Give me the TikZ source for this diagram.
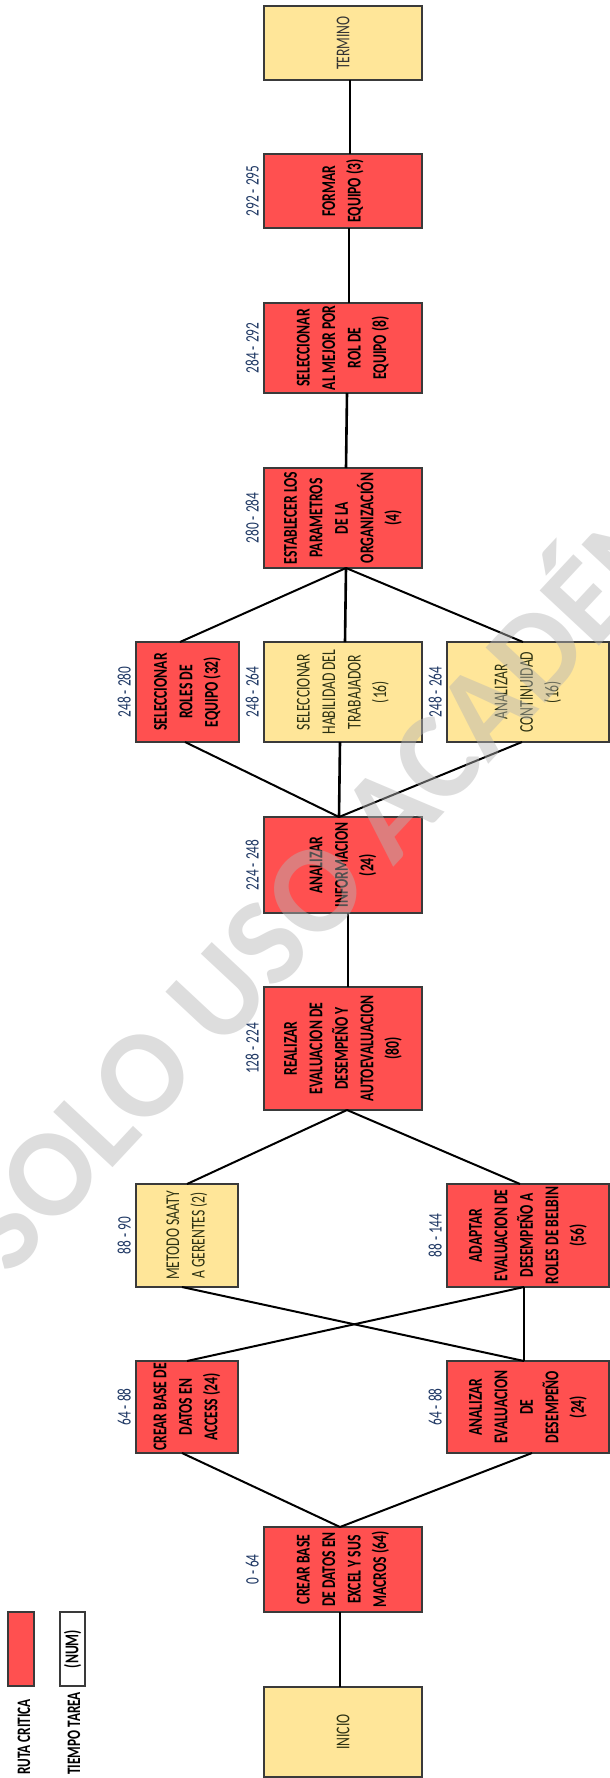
\documentclass[tikz,border=0pt]{standalone}
\usepackage{fontspec}
\setmainfont{Carlito}
\newfontfamily\boxfont[FakeStretch=0.7]{Carlito}
\definecolor{critred}{HTML}{FF5050}
\definecolor{paleyel}{HTML}{FFE699}
\definecolor{bordergray}{HTML}{3A3A3A}
\definecolor{olivetext}{HTML}{2C3112}
\definecolor{greytext}{HTML}{333333}
\definecolor{timeblue}{HTML}{1F3864}
\definecolor{wmgray}{RGB}{180,180,180}
\begin{document}
\begin{tikzpicture}[x=1pt,y=-1pt,
  box/.style={draw=bordergray, line width=1.2pt, inner sep=0pt, outer sep=0pt, rectangle},
  redbox/.style={box, fill=critred},
  yelbox/.style={box, fill=paleyel},
  btext/.style={rotate=90, align=center, inner sep=0pt, font=\boxfont\bfseries\fontsize{19.5}{25.5}\selectfont, text=black},
  ytext/.style={rotate=90, align=center, inner sep=0pt, font=\boxfont\fontsize{19.5}{25.5}\selectfont, text=olivetext},
  timelbl/.style={rotate=90, anchor=south, inner sep=0pt, font=\boxfont\fontsize{19}{25.5}\selectfont, text=timeblue},
  legtext/.style={rotate=90, anchor=base west, inner sep=0pt, font=\boxfont\bfseries\fontsize{19}{25.5}\selectfont, text=black},
  conn/.style={line width=2pt, black},
  vconn/.style={line width=2.6pt, black},
]
\useasboundingbox[fill=white] (0,0) rectangle (610,1778);

% ---- boxes ----
\node[yelbox, minimum width=158pt, minimum height=74pt] (termino) at (343,43) {};
\node[redbox, minimum width=158pt, minimum height=74pt] (formar) at (343,191) {};
\node[redbox, minimum width=158pt, minimum height=90pt] (selmejor) at (343,348) {};
\node[redbox, minimum width=158pt, minimum height=100pt] (establecer) at (343,518) {};
\node[redbox, minimum width=103pt, minimum height=100pt] (roles) at (187.5,692) {};
\node[yelbox, minimum width=158pt, minimum height=100pt] (habilidad) at (343,692) {};
\node[yelbox, minimum width=162pt, minimum height=100pt] (continuidad) at (528,692) {};
\node[redbox, minimum width=158pt, minimum height=96pt] (analizarinfo) at (343,865) {};
\node[redbox, minimum width=158pt, minimum height=123pt] (realizar) at (343,1048.5) {};
\node[yelbox, minimum width=102pt, minimum height=103pt] (saaty) at (187,1235.5) {};
\node[redbox, minimum width=162pt, minimum height=103pt] (adaptar) at (528,1235.5) {};
\node[redbox, minimum width=102pt, minimum height=92pt] (access) at (187,1407) {};
\node[redbox, minimum width=162pt, minimum height=92pt] (analizareval) at (528,1407) {};
\node[redbox, minimum width=158pt, minimum height=85pt] (crearbase) at (343,1569.5) {};
\node[yelbox, minimum width=158pt, minimum height=90pt] (inicio) at (343,1732) {};
\node[redbox, minimum width=26pt, minimum height=74pt] (legred) at (21,1649) {};
\node[box, fill=white, minimum width=25pt, minimum height=74pt] (legwhite) at (72.5,1649) {};

% ---- connectors ----
\draw[vconn] ([xshift=-3pt]inicio.north) -- ([xshift=-3pt]crearbase.south);
\draw[conn] ([xshift=-3pt]crearbase.north) -- ([xshift=-5pt]access.south);
\draw[conn] ([xshift=-3pt]crearbase.north) -- ([xshift=4pt]analizareval.south);
\draw[conn] (access.north) -- ([xshift=-4pt]adaptar.south);
\draw[conn] ([xshift=-5pt]saaty.south) -- ([xshift=-4pt]analizareval.north);
\draw[vconn] ([xshift=-4pt]analizareval.north) -- ([xshift=-4pt]adaptar.south);
\draw[conn] (saaty.north) -- ([xshift=4pt]realizar.south);
\draw[conn] ([xshift=-8pt]adaptar.north) -- ([xshift=4pt]realizar.south);
\draw[vconn] ([xshift=5pt]realizar.north) -- ([xshift=5pt]analizarinfo.south);
\draw[conn] ([xshift=-4pt]analizarinfo.north) -- ([xshift=-2.5pt]roles.south);
\draw[vconn] ([xshift=-4pt]analizarinfo.north) -- ([xshift=-3pt]habilidad.south);
\draw[conn] ([xshift=-4pt]analizarinfo.north) -- ([xshift=-6pt]continuidad.south);
\draw[conn] ([xshift=-7.5pt]roles.north) -- ([xshift=3pt]establecer.south);
\draw[vconn] ([xshift=2pt]habilidad.north) -- ([xshift=3pt]establecer.south);
\draw[conn] ([xshift=-5pt]continuidad.north) -- ([xshift=3pt]establecer.south);
\draw[vconn] ([xshift=3pt]establecer.north) -- ([xshift=4pt]selmejor.south);
\draw[vconn] ([xshift=6pt]selmejor.north) -- ([xshift=6pt]formar.south);
\draw[vconn] ([xshift=7pt]formar.north) -- ([xshift=7pt]termino.south);

% ---- box texts ----
\node[ytext, text=greytext] (t-termino) at (termino.center) {TERMINO};
\node[btext] (t-formar) at (formar.center) {FORMAR\\EQUIPO (3)};
\node[btext] (t-selmejor) at (selmejor.center) {SELECCIONAR\\AL MEJOR POR\\ROL DE\\EQUIPO (8)};
\node[btext] (t-establecer) at (establecer.center) {ESTABLECER LOS\\PARAMETROS\\DE LA\\ORGANIZACIÓN\\(4)};
\node[btext] (t-roles) at (roles.center) {SELECCIONAR\\ROLES DE\\EQUIPO (32)};
\node[ytext] (t-habilidad) at (habilidad.center) {SELECCIONAR\\HABILIDAD DEL\\TRABAJADOR\\(16)};
\node[ytext] (t-continuidad) at (continuidad.center) {ANALIZAR\\CONTINUIDAD\\(16)};
\node[btext] (t-analizarinfo) at (analizarinfo.center) {ANALIZAR\\INFORMACION\\(24)};
\node[btext] (t-realizar) at (realizar.center) {REALIZAR\\EVALUACION DE\\DESEMPEÑO Y\\AUTOEVALUACION\\(80)};
\node[ytext] (t-saaty) at (saaty.center) {METODO SAATY\\A GERENTES (2)};
\node[btext] (t-adaptar) at (adaptar.center) {ADAPTAR\\EVALUACION DE\\DESEMPEÑO A\\ROLES DE BELBIN\\(56)};
\node[btext] (t-access) at (access.center) {CREAR BASE DE\\DATOS EN\\ACCESS (24)};
\node[btext] (t-analizareval) at (analizareval.center) {ANALIZAR\\EVALUACION\\DE\\DESEMPEÑO\\(24)};
\node[btext] (t-crearbase) at (crearbase.center) {CREAR BASE\\DE DATOS EN\\EXCEL Y SUS\\MACROS (64)};
\node[ytext] (t-inicio) at (inicio.center) {INICIO};
\node[btext] (t-num) at (legwhite.center) {(NUM)};

% ---- time labels ----
\node[timelbl] (l-crearbase) at ([xshift=-5pt]crearbase.west) {0 - 64};
\node[timelbl] (l-access) at ([xshift=-5pt]access.west) {64 - 88};
\node[timelbl] (l-analizareval) at ([xshift=-5pt]analizareval.west) {64 - 88};
\node[timelbl] (l-saaty) at ([xshift=-5pt]saaty.west) {88 - 90};
\node[timelbl] (l-adaptar) at ([xshift=-5pt]adaptar.west) {88 - 144};
\node[timelbl] (l-realizar) at ([xshift=-5pt]realizar.west) {128 - 224};
\node[timelbl] (l-analizarinfo) at ([xshift=-5pt]analizarinfo.west) {224 - 248};
\node[timelbl] (l-roles) at ([xshift=-5pt]roles.west) {248 - 280};
\node[timelbl] (l-habilidad) at ([xshift=-5pt]habilidad.west) {248 - 264};
\node[timelbl] (l-continuidad) at ([xshift=-5pt]continuidad.west) {248 - 264};
\node[timelbl] (l-establecer) at ([xshift=-5pt]establecer.west) {280 - 284};
\node[timelbl] (l-selmejor) at ([xshift=-5pt]selmejor.west) {284 - 292};
\node[timelbl] (l-formar) at ([xshift=-5pt]formar.west) {292 - 295};

% ---- legend texts ----
\node[legtext] (leg1) at (30,1775) {RUTA CRITICA};
\node[legtext] (leg2) at (80,1775) {TIEMPO TAREA};

% ---- watermark ----
\node[rotate=47, anchor=base, inner sep=0pt, text=wmgray, opacity=0.45,
      font=\bfseries\fontsize{125}{125}\selectfont] (wm) at (423,835) {SOLO USO ACADÉMICO};
\end{tikzpicture}
\end{document}
